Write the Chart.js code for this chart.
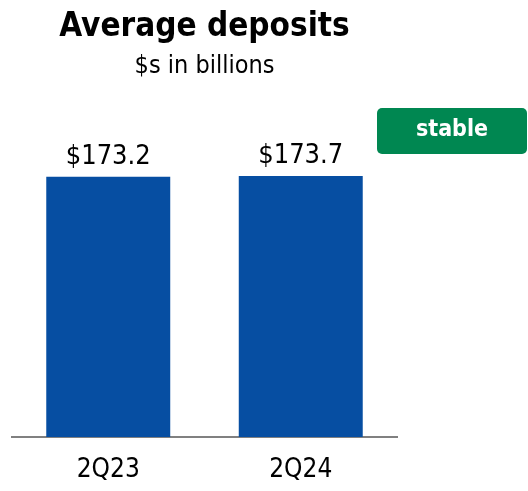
<!DOCTYPE html>
<html>
<head>
<meta charset="utf-8">
<script src="https://cdn.jsdelivr.net/npm/chart.js@4.4.1/dist/chart.umd.min.js"></script>
<style>
  html, body { margin: 0; padding: 0; background: #fff; }
  #depositsChart { display: block; }
</style>
</head>
<body>
<canvas id="depositsChart" width="528" height="491"></canvas>
<script>
const quarters = ['2Q23', '2Q24'];
const avgDeposits = [173.2, 173.7];
const valueLabels = ['$173.2', '$173.7'];
const badgeText = 'stable';

const FONT = "'DejaVu Sans Condensed', 'DejaVu Sans', sans-serif";

// "$173.2" style labels above each bar
const barValueLabels = {
  id: 'barValueLabels',
  afterDatasetsDraw(chart) {
    const ctx = chart.ctx;
    const meta = chart.getDatasetMeta(0);
    ctx.save();
    ctx.font = '27px ' + FONT;
    ctx.fillStyle = '#000';
    ctx.textAlign = 'center';
    ctx.textBaseline = 'alphabetic';
    meta.data.forEach((bar, i) => {
      ctx.fillText(valueLabels[i], bar.x, bar.y - 13);
    });
    ctx.restore();
  }
};

// green "stable" tag to the right of the plot
const statusBadge = {
  id: 'statusBadge',
  afterDraw(chart) {
    const ctx = chart.ctx;
    const x = 377, y = 108, w = 150, h = 46, r = 5;
    ctx.save();
    ctx.fillStyle = '#008751';
    ctx.beginPath();
    ctx.roundRect(x, y, w, h, r);
    ctx.fill();
    ctx.fillStyle = '#fff';
    ctx.font = 'bold 23px ' + FONT;
    ctx.textAlign = 'center';
    ctx.textBaseline = 'middle';
    ctx.fillText(badgeText, x + w / 2, y + 22);
    ctx.restore();
  }
};

const ctx = document.getElementById('depositsChart');

new Chart(ctx, {
  type: 'bar',
  data: {
    labels: quarters,
    datasets: [{
      data: avgDeposits,
      backgroundColor: '#064ea2',
      barPercentage: 0.644,
      categoryPercentage: 1.0
    }]
  },
  options: {
    responsive: false,
    maintainAspectRatio: false,
    animation: false,
    layout: {
      padding: { left: 12, right: 131, top: 8, bottom: 0 }
    },
    plugins: {
      legend: { display: false },
      tooltip: { enabled: false },
      title: {
        display: true,
        text: 'Average deposits',
        fullSize: false,
        color: '#000',
        font: { family: FONT, size: 33, weight: 'bold' },
        padding: { top: 0, bottom: 0 }
      },
      subtitle: {
        display: true,
        text: '$s in billions',
        fullSize: false,
        color: '#000',
        font: { family: FONT, size: 25 },
        padding: { top: 4, bottom: 55 }
      }
    },
    scales: {
      x: {
        grid: { display: false },
        border: { display: true, color: '#808080', width: 2 },
        ticks: {
          color: '#000',
          padding: 10,
          font: { family: FONT, size: 26 }
        },
        afterFit(axis) {
          axis.height = 54;
        }
      },
      y: {
        display: false,
        beginAtZero: true,
        min: 0,
        max: 200
      }
    }
  },
  plugins: [barValueLabels, statusBadge]
});
</script>
</body>
</html>
